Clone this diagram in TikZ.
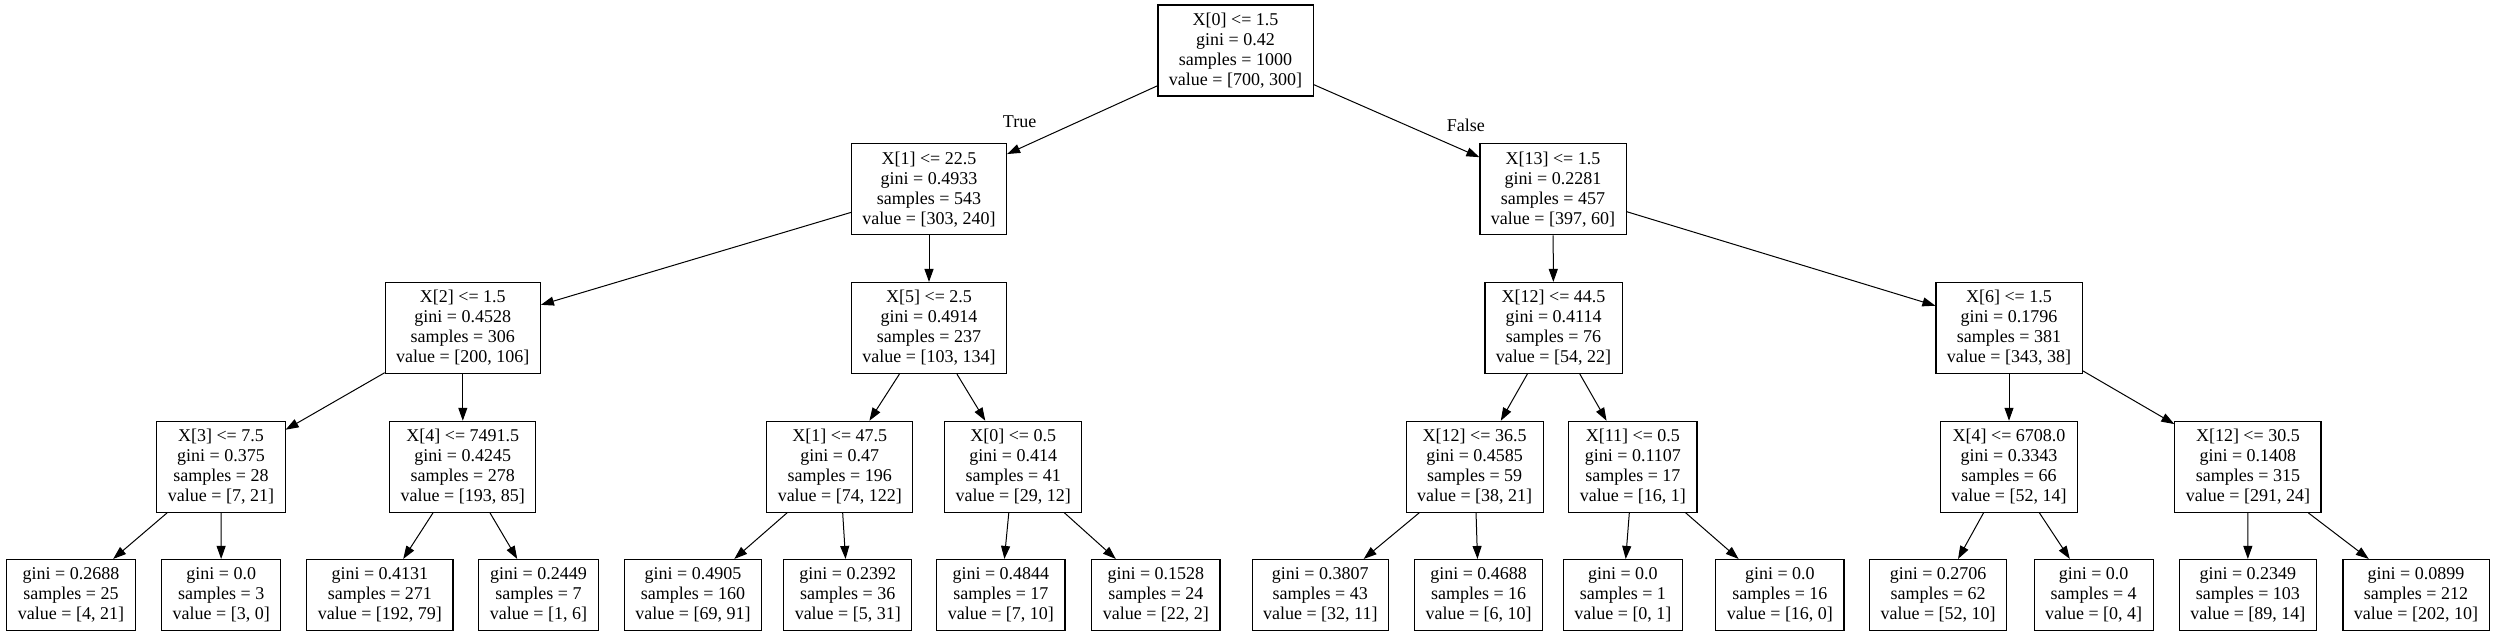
\documentclass[tikz,border=0pt]{standalone}
\usepackage{fontspec}
\setmainfont{Liberation Serif}
\usetikzlibrary{arrows.meta}
\begin{document}
\begin{tikzpicture}[x=1pt,y=-1pt,
  treebox/.style={draw,line width=1.1pt,align=center,inner xsep=11pt,inner ysep=0pt,
    font=\fontsize{18}{20}\selectfont},
  inner/.style={treebox,minimum height=91pt},
  leaf/.style={treebox,minimum height=71pt},
  edge/.style={draw,line width=1pt,-{Triangle[length=13pt,width=9pt]}},
  elabel/.style={font=\fontsize{18}{20}\selectfont,inner sep=0pt}]
\fill[white] (0,0) rectangle (2495,636);
\useasboundingbox (0,0) rectangle (2495,636);
% level 0
\node[inner] (root) at (1235.5,50.5) {X[0] <= 1.5\\gini = 0.42\\samples = 1000\\value = [700, 300]};
% level 1
\node[inner] (n1) at (929,189.3) {X[1] <= 22.5\\gini = 0.4933\\samples = 543\\value = [303, 240]};
\node[inner] (n2) at (1553,189.3) {X[13] <= 1.5\\gini = 0.2281\\samples = 457\\value = [397, 60]};
% level 2
\node[inner] (n3) at (462.8,328) {X[2] <= 1.5\\gini = 0.4528\\samples = 306\\value = [200, 106]};
\node[inner] (n4) at (929,328) {X[5] <= 2.5\\gini = 0.4914\\samples = 237\\value = [103, 134]};
\node[inner] (n5) at (1553.5,328) {X[12] <= 44.5\\gini = 0.4114\\samples = 76\\value = [54, 22]};
\node[inner] (n6) at (2009,328) {X[6] <= 1.5\\gini = 0.1796\\samples = 381\\value = [343, 38]};
% level 3
\node[inner] (n7) at (221,466.8) {X[3] <= 7.5\\gini = 0.375\\samples = 28\\value = [7, 21]};
\node[inner] (n8) at (462.8,466.8) {X[4] <= 7491.5\\gini = 0.4245\\samples = 278\\value = [193, 85]};
\node[inner] (n9) at (839.8,466.8) {X[1] <= 47.5\\gini = 0.47\\samples = 196\\value = [74, 122]};
\node[inner] (n10) at (1013.2,466.8) {X[0] <= 0.5\\gini = 0.414\\samples = 41\\value = [29, 12]};
\node[inner] (n11) at (1474.6,466.8) {X[12] <= 36.5\\gini = 0.4585\\samples = 59\\value = [38, 21]};
\node[inner] (n12) at (1632.9,466.8) {X[11] <= 0.5\\gini = 0.1107\\samples = 17\\value = [16, 1]};
\node[inner] (n13) at (2009,466.8) {X[4] <= 6708.0\\gini = 0.3343\\samples = 66\\value = [52, 14]};
\node[inner] (n14) at (2247.9,466.8) {X[12] <= 30.5\\gini = 0.1408\\samples = 315\\value = [291, 24]};
% leaves
\node[leaf] (l1) at (71,595) {gini = 0.2688\\samples = 25\\value = [4, 21]};
\node[leaf] (l2) at (221.2,595) {gini = 0.0\\samples = 3\\value = [3, 0]};
\node[leaf] (l3) at (379.9,595) {gini = 0.4131\\samples = 271\\value = [192, 79]};
\node[leaf] (l4) at (538.5,595) {gini = 0.2449\\samples = 7\\value = [1, 6]};
\node[leaf] (l5) at (693,595) {gini = 0.4905\\samples = 160\\value = [69, 91]};
\node[leaf] (l6) at (847.8,595) {gini = 0.2392\\samples = 36\\value = [5, 31]};
\node[leaf] (l7) at (1000.9,595) {gini = 0.4844\\samples = 17\\value = [7, 10]};
\node[leaf] (l8) at (1155.9,595) {gini = 0.1528\\samples = 24\\value = [22, 2]};
\node[leaf] (l9) at (1320.3,595) {gini = 0.3807\\samples = 43\\value = [32, 11]};
\node[leaf] (l10) at (1478.6,595) {gini = 0.4688\\samples = 16\\value = [6, 10]};
\node[leaf] (l11) at (1622.9,595) {gini = 0.0\\samples = 1\\value = [0, 1]};
\node[leaf] (l12) at (1779.9,595) {gini = 0.0\\samples = 16\\value = [16, 0]};
\node[leaf] (l13) at (1938.1,595) {gini = 0.2706\\samples = 62\\value = [52, 10]};
\node[leaf] (l14) at (2093.6,595) {gini = 0.0\\samples = 4\\value = [0, 4]};
\node[leaf] (l15) at (2247.8,595) {gini = 0.2349\\samples = 103\\value = [89, 14]};
\node[leaf] (l16) at (2416,595) {gini = 0.0899\\samples = 212\\value = [202, 10]};
% edge labels
\node[elabel] (lblTrue) at (1019.6,121.7) {True};
\node[elabel] (lblFalse) at (1465.8,125) {False};
% edges
\draw[edge] (root) -- (n1);
\draw[edge] (root) -- (n2);
\draw[edge] (n1) -- (n3);
\draw[edge] (n1) -- (n4);
\draw[edge] (n2) -- (n5);
\draw[edge] (n2) -- (n6);
\draw[edge] (n3) -- (n7);
\draw[edge] (n3) -- (n8);
\draw[edge] (n4) -- (n9);
\draw[edge] (n4) -- (n10);
\draw[edge] (n5) -- (n11);
\draw[edge] (n5) -- (n12);
\draw[edge] (n6) -- (n13);
\draw[edge] (n6) -- (n14);
\draw[edge] (n7) -- (l1);
\draw[edge] (n7) -- (l2);
\draw[edge] (n8) -- (l3);
\draw[edge] (n8) -- (l4);
\draw[edge] (n9) -- (l5);
\draw[edge] (n9) -- (l6);
\draw[edge] (n10) -- (l7);
\draw[edge] (n10) -- (l8);
\draw[edge] (n11) -- (l9);
\draw[edge] (n11) -- (l10);
\draw[edge] (n12) -- (l11);
\draw[edge] (n12) -- (l12);
\draw[edge] (n13) -- (l13);
\draw[edge] (n13) -- (l14);
\draw[edge] (n14) -- (l15);
\draw[edge] (n14) -- (l16);
\end{tikzpicture}
\end{document}
